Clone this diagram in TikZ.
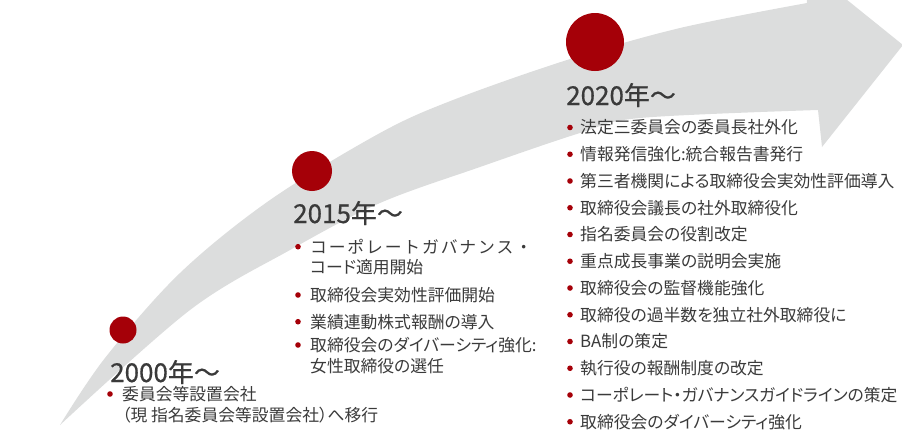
\documentclass[tikz,border=0pt]{standalone}
\usepackage{fontspec}
\newfontfamily\jp[RawFeature=+palt]{Noto Sans CJK JP}
\newfontfamily\jpfull{Noto Sans CJK JP}
\newfontfamily\jptitle[FakeBold=0.6]{Noto Sans CJK JP}
\definecolor{arrowgray}{HTML}{DCDDDD}
\definecolor{mark}{HTML}{A50008}
\definecolor{txt}{HTML}{3A3A3A}
\tikzset{
  circ/.style={circle, fill=mark, inner sep=0pt},
  dot/.style={circle, fill=mark, inner sep=0pt, minimum size=5.6pt},
  yeartitle/.style={font=\jptitle\fontsize{26}{30}\selectfont, text=txt, inner sep=0pt, anchor=base west},
  item/.style={font=\jp\fontsize{16.8}{20}\selectfont, text=txt, inner sep=0pt, anchor=west, text height=14.8pt, text depth=2pt}
}
\begin{document}
\begin{tikzpicture}[x=1pt, y=-1pt]
\useasboundingbox (0,0) rectangle (902,432);
\begin{scope}
\clip (0,0) rectangle (902,432);
\fill[arrowgray] plot[smooth, tension=0.55] coordinates {(60,425) (105,358) (180,273) (270,200) (380,133) (453,100) (567,60) (680,28) (807,3)}
  -- (805,-34) -- (903,45) -- (822,147) -- (818,110)
  -- plot[smooth, tension=0.55] coordinates {(818,110) (640,118) (580,133) (480,167) (380,203) (290,250) (190,310) (60,425)} -- cycle;
\end{scope}

% markers
\node[circ, minimum size=27pt] (c2000) at (123,330) {};
\node[circ, minimum size=40pt] (c2015) at (312,171) {};
\node[circ, minimum size=58pt] (c2020) at (595,42) {};

% titles
\node[yeartitle] (t2000) at (110,382) {2000年〜};
\node[yeartitle] (t2015) at (293,223) {2015年〜};
\node[yeartitle] (t2020) at (566,105) {2020年〜};

% 2000
\node[dot] (d00a) at (110,394) {};
\node[item] (i00a) at (122,394) {委員会等設置会社};
\node[item] (i00b) at (122,415) {（現 指名委員会等設置会社）へ移行};

% 2015
\node[dot] (d15a) at (298,246.7) {};
\node[item, font=\jpfull\fontsize{16.8}{20}\selectfont] (i15a) at (310,246.7) {\hbox to 222pt{コ\hfil ー\hfil ポ\hfil レ\hfil ー\hfil ト\hfil ガ\hfil バ\hfil ナ\hfil ン\hfil ス\hfil ・}};
\node[item] (i15b) at (310,266.7) {コード適用開始};
\node[dot] (d15c) at (298,295) {};
\node[item] (i15c) at (310,295) {取締役会実効性評価開始};
\node[dot] (d15d) at (298,321.7) {};
\node[item] (i15d) at (310,321.7) {業績連動株式報酬の導入};
\node[dot] (d15e) at (298,345) {};
\node[item] (i15e) at (310,345) {取締役会のダイバーシティ強化:};
\node[item] (i15f) at (310,366) {女性取締役の選任};

% 2020
\foreach \t [count=\i from 0] in {法定三委員会の委員長社外化,情報発信強化:統合報告書発行,第三者機関による取締役会実効性評価導入,取締役会議長の社外取締役化,指名委員会の役割改定,重点成長事業の説明会実施,取締役会の監督機能強化,取締役の過半数を独立社外取締役に,BA制の策定,執行役の報酬制度の改定,コーポレート・ガバナンスガイドラインの策定,取締役会のダイバーシティ強化}{
  \node[dot] (d20\i) at (570,{127.5+26.75*\i}) {};
  \node[item] (i20\i) at (580,{127.5+26.75*\i}) {\t};
}
\end{tikzpicture}
\end{document}
